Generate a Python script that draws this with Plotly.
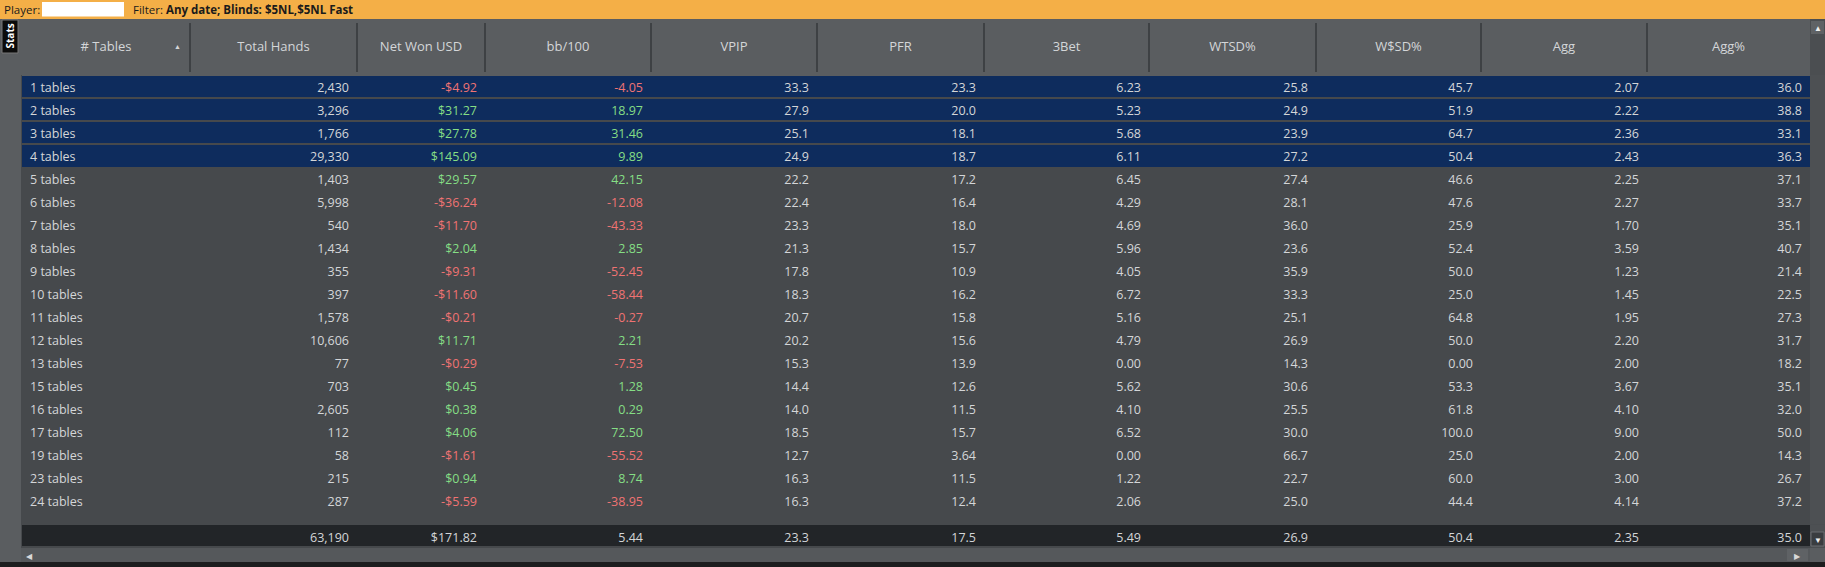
import plotly.graph_objects as go

W, H = 1825, 567

# ---- data -----------------------------------------------------------------
tables = ["1 tables", "2 tables", "3 tables", "4 tables", "5 tables",
          "6 tables", "7 tables", "8 tables", "9 tables", "10 tables",
          "11 tables", "12 tables", "13 tables", "15 tables", "16 tables",
          "17 tables", "19 tables", "23 tables", "24 tables"]
total_hands = [2430, 3296, 1766, 29330, 1403, 5998, 540, 1434, 355, 397,
               1578, 10606, 77, 703, 2605, 112, 58, 215, 287]
net_won = [-4.92, 31.27, 27.78, 145.09, 29.57, -36.24, -11.70, 2.04, -9.31,
           -11.60, -0.21, 11.71, -0.29, 0.45, 0.38, 4.06, -1.61, 0.94, -5.59]
bb100 = [-4.05, 18.97, 31.46, 9.89, 42.15, -12.08, -43.33, 2.85, -52.45,
         -58.44, -0.27, 2.21, -7.53, 1.28, 0.29, 72.50, -55.52, 8.74, -38.95]
vpip = [33.3, 27.9, 25.1, 24.9, 22.2, 22.4, 23.3, 21.3, 17.8, 18.3, 20.7,
        20.2, 15.3, 14.4, 14.0, 18.5, 12.7, 16.3, 16.3]
pfr = [23.3, 20.0, 18.1, 18.7, 17.2, 16.4, 18.0, 15.7, 10.9, 16.2, 15.8,
       15.6, 13.9, 12.6, 11.5, 15.7, 3.64, 11.5, 12.4]
three_bet = [6.23, 5.23, 5.68, 6.11, 6.45, 4.29, 4.69, 5.96, 4.05, 6.72,
             5.16, 4.79, 0.00, 5.62, 4.10, 6.52, 0.00, 1.22, 2.06]
wtsd = [25.8, 24.9, 23.9, 27.2, 27.4, 28.1, 36.0, 23.6, 35.9, 33.3, 25.1,
        26.9, 14.3, 30.6, 25.5, 30.0, 66.7, 22.7, 25.0]
wsd = [45.7, 51.9, 64.7, 50.4, 46.6, 47.6, 25.9, 52.4, 50.0, 25.0, 64.8,
       50.0, 0.00, 53.3, 61.8, 100.0, 25.0, 60.0, 44.4]
agg = [2.07, 2.22, 2.36, 2.43, 2.25, 2.27, 1.70, 3.59, 1.23, 1.45, 1.95,
       2.20, 2.00, 3.67, 4.10, 9.00, 2.00, 3.00, 4.14]
agg_pct = [36.0, 38.8, 33.1, 36.3, 37.1, 33.7, 35.1, 40.7, 21.4, 22.5, 27.3,
           31.7, 18.2, 35.1, 32.0, 50.0, 14.3, 26.7, 37.2]
totals = ["", "63,190", "$171.82", "5.44", "23.3", "17.5", "5.49", "26.9",
          "50.4", "2.35", "35.0"]
headers = ["# Tables", "Total Hands", "Net Won USD", "bb/100", "VPIP", "PFR",
           "3Bet", "WTSD%", "W$SD%", "Agg", "Agg%"]
selected = 4  # first four rows are highlighted

# column widths in screen px, grid starts at x=22
col_w = [168, 167, 128, 166, 166, 167, 165, 167, 165, 166, 163]
X0 = 22
HEAD_TOP, HEAD_BOT = 19, 75
ROW_H = 23

TEXT = "#d4d6d8"
GREEN = "#85de85"
RED = "#f07373"
ROW_BG = "#46494c"
SEL_BG = "#0e2c5d"
HEAD_BG = "#5a5d60"
FOOT_BG = "#222528"
FONT = "Open Sans, Noto Sans, sans-serif"


def px(x):
    return x / W


def py(y):
    return 1 - y / H


def money(v):
    return ("-$" if v < 0 else "$") + f"{abs(v):.2f}"


def pct(v):
    return f"{v:.2f}" if v < 10 else f"{v:.1f}"


def sign_color(vals):
    return [GREEN if v > 0 else RED for v in vals]


n = len(tables)
columns = [
    tables,
    [f"{v:,}" for v in total_hands],
    [money(v) for v in net_won],
    [f"{v:.2f}" for v in bb100],
    [pct(v) for v in vpip],
    [pct(v) for v in pfr],
    [f"{v:.2f}" for v in three_bet],
    [pct(v) for v in wtsd],
    [pct(v) for v in wsd],
    [f"{v:.2f}" for v in agg],
    [pct(v) for v in agg_pct],
]
row_fill = [SEL_BG if i < selected else ROW_BG for i in range(n)]
fills = [row_fill] * len(columns)
fonts = [[TEXT] * n, [TEXT] * n, sign_color(net_won), sign_color(bb100)] + \
    [[TEXT] * n] * 7
x_dom = [px(X0), px(X0 + sum(col_w))]

fig = go.Figure()
# plotly top-aligns cell text, so the header cell starts lower and the
# gray band above it comes from the page background
fig.add_trace(go.Table(
    domain=dict(x=x_dom, y=[py(524), py(HEAD_TOP + 14)]),
    columnwidth=col_w,
    header=dict(values=headers, height=HEAD_BOT - HEAD_TOP - 14,
                align="center", fill_color=HEAD_BG,
                line=dict(color=HEAD_BG, width=0),
                font=dict(family=FONT, size=13, color=TEXT)),
    cells=dict(values=columns, height=ROW_H,
               align=["left"] + ["right"] * 10,
               fill_color=fills, line=dict(color=fills, width=0),
               font=dict(family=FONT, size=12.5, color=fonts)),
))
# totals bar
fig.add_trace(go.Table(
    domain=dict(x=x_dom, y=[py(548), py(525)]),
    columnwidth=col_w,
    header=dict(values=totals, height=21, align="right",
                fill_color=FOOT_BG, line=dict(color=FOOT_BG, width=0),
                font=dict(family=FONT, size=12.5, color=TEXT)),
    cells=dict(values=[[] for _ in totals], height=1),
))

shapes = []


def rect(x0, y0, x1, y1, color, layer="below", line=None):
    shapes.append(dict(type="rect", xref="paper", yref="paper",
                       x0=px(x0), x1=px(x1), y0=py(y1), y1=py(y0),
                       fillcolor=color, layer=layer,
                       line=dict(width=0) if line is None else line))


def hline(x0, x1, y, color, width):
    shapes.append(dict(type="line", xref="paper", yref="paper",
                       x0=px(x0), x1=px(x1), y0=py(y), y1=py(y),
                       line=dict(color=color, width=width), layer="above"))


rect(0, 0, W, HEAD_TOP, "#f4af47")                 # filter bar
rect(42, 2, 124, 16.5, "#ffffff")                  # player box
rect(21, HEAD_BOT, W, 548, ROW_BG)                 # grid background
rect(1810, HEAD_TOP, W, 548, "#4b4e51")            # vertical scroll track
rect(1811, 21, 1824, 34, "#5f6265", "above")
rect(1811, 532, 1824, 546, "#3a3d40", "above",
     dict(color="#6a6d70", width=1))
rect(21, 548, 1810, 562, "#55585b")                # horizontal scroll track
rect(1787, 549, 1808, 561, "#5f6265")
rect(0, 562, W, H, "#1c1d1e")                      # window edge
rect(2, 20, 18, 53, "#0b0b0b", "above", dict(color="#777", width=1))

# gaps between the highlighted rows, on the row pitch
hline(X0, 1810, HEAD_BOT + 0.5, "#5a5d60", 1)
for k in range(1, selected):
    hline(X0, 1810, HEAD_BOT + k * ROW_H, ROW_BG, 2)

# header column separators follow the column widths
edge = X0
for w in col_w[:-1]:
    edge += w
    shapes.append(dict(type="line", xref="paper", yref="paper",
                       x0=px(edge), x1=px(edge), y0=py(23), y1=py(72),
                       line=dict(color="#36383b", width=1.5), layer="above"))

annotations = [
    dict(x=px(2), y=py(9.5), text="Player:", xanchor="left",
         font=dict(size=11.5, color="#1b1b1b")),
    dict(x=px(131), y=py(9.5),
         text="Filter: <b>Any date; Blinds: $5NL,$5NL Fast</b>",
         xanchor="left", font=dict(size=11.5, color="#1b1b1b")),
    dict(x=px(10), y=py(36.5), text="<b>Stats</b>", textangle=-90,
         font=dict(size=10, color="#ffffff")),
    dict(x=px(177), y=py(46), text="▲", font=dict(size=7, color=TEXT)),
    dict(x=px(1817.5), y=py(27.5), text="▲", font=dict(size=8, color="#f0f0f0")),
    dict(x=px(1817.5), y=py(539), text="▼", font=dict(size=8, color="#f0f0f0")),
    dict(x=px(29), y=py(555), text="◀", font=dict(size=8, color="#d8d8d8")),
    dict(x=px(1797.5), y=py(555), text="▶", font=dict(size=8, color="#d8d8d8")),
]
for a in annotations:
    a.update(xref="paper", yref="paper", showarrow=False, yanchor="middle")
    a.setdefault("xanchor", "center")
    a["font"].setdefault("family", FONT)

fig.update_layout(
    width=W, height=H, margin=dict(l=0, r=0, t=0, b=0),
    paper_bgcolor=HEAD_BG, plot_bgcolor=HEAD_BG,
    shapes=shapes, annotations=annotations, showlegend=False,
    font=dict(family=FONT, color=TEXT),
)
fig.write_html("out.html", config={"displayModeBar": False},
               post_script="document.body.style.margin='0';"
                           "document.body.style.overflow='hidden';")
